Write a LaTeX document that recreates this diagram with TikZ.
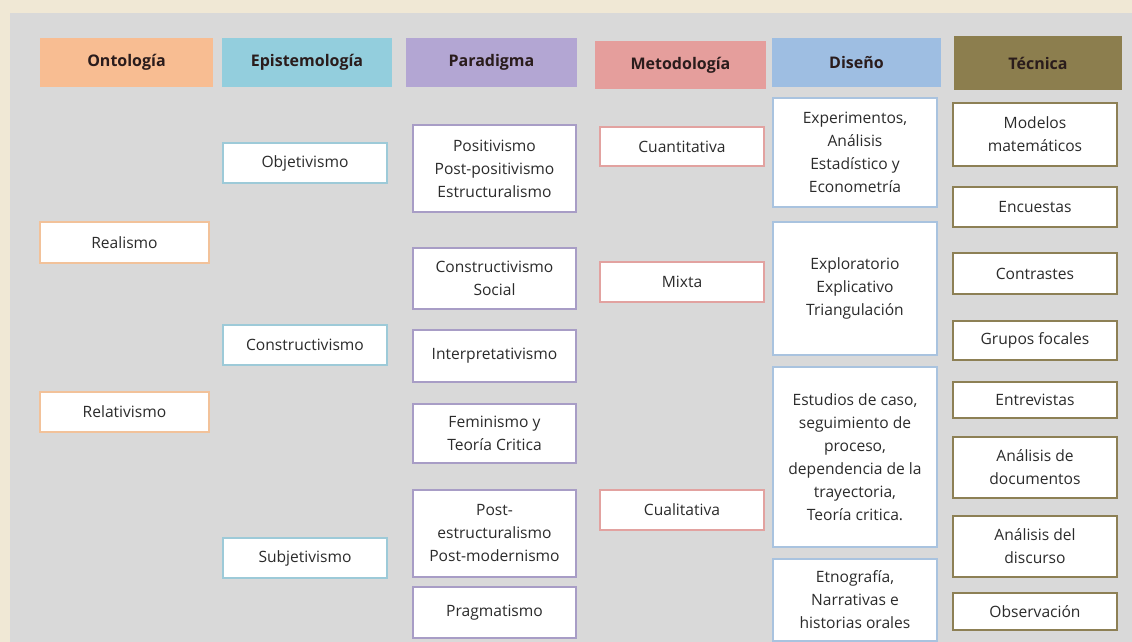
\documentclass[tikz,border=0pt]{standalone}
\usepackage{fontspec}
\setmainfont{Open Sans}

\definecolor{crema}{HTML}{F0E8D5}
\definecolor{gris}{HTML}{D9D9D9}
\definecolor{titulo}{HTML}{2A1C1C}
\definecolor{texto}{HTML}{2B2B2B}
\definecolor{ontfondo}{HTML}{F8BD92}
\definecolor{epifondo}{HTML}{93CEDD}
\definecolor{parfondo}{HTML}{B3A6D3}
\definecolor{metfondo}{HTML}{E59E9C}
\definecolor{disfondo}{HTML}{9EBEE2}
\definecolor{tecfondo}{HTML}{8C7E4E}
\definecolor{ontborde}{HTML}{F2C29A}
\definecolor{epiborde}{HTML}{9DCAD8}
\definecolor{parborde}{HTML}{A89DC6}
\definecolor{metborde}{HTML}{E2A2A0}
\definecolor{disborde}{HTML}{A9C3DF}
\definecolor{tecborde}{HTML}{8D8055}

\tikzset{
	alto/.style={minimum height=#1*0.5pt},
	cabecera/.style={minimum width=85pt, minimum height=24.5pt, inner sep=0pt,
		font=\fontsize{8}{9}\selectfont\bfseries, text=titulo},
	caja/.style={draw, line width=0.9pt, fill=white, align=center, inner sep=0pt,
		minimum width=82pt, font=\fontsize{7.8}{11.5}\selectfont, text=texto},
	cajaont/.style={caja, draw=ontborde, minimum width=84.5pt},
	cajaepi/.style={caja, draw=epiborde},
	cajapar/.style={caja, draw=parborde, minimum width=81.5pt},
	cajamet/.style={caja, draw=metborde},
	cajadis/.style={caja, draw=disborde},
	cajatec/.style={caja, draw=tecborde},
}

\begin{document}
\begin{tikzpicture}[x=0.5pt, y=-0.5pt]
		\fill[crema] (0,0) rectangle (1132,642);
		\fill[gris] (10,13) rectangle (1132,642);
		\useasboundingbox (0,0) rectangle (1132,642);
		
		% cabeceras
		\node[cabecera, fill=ontfondo, minimum width=86.5pt] (ontologia) at (126.5,62.5) {Ontología};
		\node[cabecera, fill=epifondo] (epistemologia) at (307,62.5) {Epistemología};
		\node[cabecera, fill=parfondo, minimum width=85.5pt] (paradigma) at (491.5,62.5) {Paradigma};
		\node[cabecera, fill=metfondo, minimum width=85.5pt, minimum height=24pt] (metodologia) at (680.5,65) {Metodología};
		\node[cabecera, fill=disfondo, minimum width=84.5pt] (diseno) at (856.5,62.5) {Diseño};
		\node[cabecera, fill=tecfondo, minimum width=84pt, minimum height=27pt] (tecnica) at (1038,63) {Técnica};
		
		% ontologia
		\node[cajaont, alto=41] (realismo) at (124.5,242.5) {Realismo};
		\node[cajaont, alto=40] (relativismo) at (124.5,412) {Relativismo};
		
		% epistemologia
		\node[cajaepi, alto=40] (objetivismo) at (305,163) {Objetivismo};
		\node[cajaepi, alto=40] (constructivismo) at (305,345) {Constructivismo};
		\node[cajaepi, alto=40] (subjetivismo) at (305,558) {Subjetivismo};
		
		% paradigma
		\node[cajapar, alto=87] (positivismo) at (494.5,168.5) {Positivismo\\Post-positivismo\\Estructuralismo};
		\node[cajapar, alto=61] (social) at (494.5,278.5) {Constructivismo\\Social};
		\node[cajapar, alto=52] (interpretativismo) at (494.5,356) {Interpretativismo};
		\node[cajapar, alto=59] (feminismo) at (494.5,433.5) {Feminismo y\\Teoría Critica};
		\node[cajapar, alto=87] (postestructuralismo) at (494.5,533.5) {Post-\\estructuralismo\\Post-modernismo};
		\node[cajapar, alto=51] (pragmatismo) at (494.5,612.5) {Pragmatismo};
		
		% metodologia
		\node[cajamet, alto=39] (cuantitativa) at (682,146.5) {Cuantitativa};
		\node[cajamet, alto=40] (mixta) at (682,282) {Mixta};
		\node[cajamet, alto=40] (cualitativa) at (682,510) {Cualitativa};
		
		% diseno
		\node[cajadis, alto=109] (experimentos) at (855,152.5) {Experimentos,\\Análisis\\Estadístico y\\Econometría};
		\node[cajadis, alto=133] (exploratorio) at (855,288.5) {Exploratorio\\Explicativo\\Triangulación};
		\node[cajadis, alto=180] (estudios) at (855,457) {Estudios de caso,\\seguimiento de\\proceso,\\dependencia de la\\trayectoria,\\Teoría critica.};
		\node[cajadis, alto=82] (etnografia) at (855,600) {Etnografía,\\Narrativas e\\historias orales};
		
		% tecnica
		\node[cajatec, alto=63] (modelos) at (1035,134.5) {Modelos\\matemáticos};
		\node[cajatec, alto=40] (encuestas) at (1035,207) {Encuestas};
		\node[cajatec, alto=41] (contrastes) at (1035,273.5) {Contrastes};
		\node[cajatec, alto=39] (grupos) at (1035,340.5) {Grupos focales};
		\node[cajatec, alto=36] (entrevistas) at (1035,400) {Entrevistas};
		\node[cajatec, alto=61] (documentos) at (1035,467.5) {Análisis de\\documentos};
		\node[cajatec, alto=61] (discurso) at (1035,546.5) {Análisis del\\discurso};
		\node[cajatec, alto=37] (observacion) at (1035,611.5) {Observación};
		
\end{tikzpicture}
\end{document}
